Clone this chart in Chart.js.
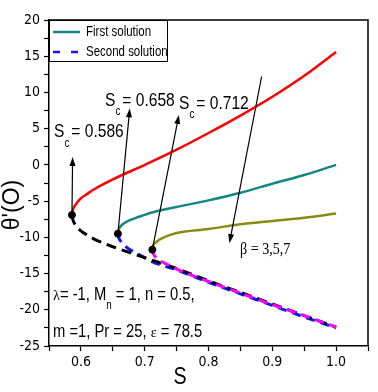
<!DOCTYPE html>
<html>
<head>
<meta charset="utf-8">
<script src="https://cdn.jsdelivr.net/npm/chart.js@4.4.1/dist/chart.umd.min.js"></script>
<style>
  body { margin: 0; background: #fff; }
  canvas { display: block; }
</style>
</head>
<body>
<canvas id="chart" width="378" height="392"></canvas>
<script>
// beta = 3
const sBeta3 = [0.586, 0.5875, 0.59, 0.595, 0.6, 0.61, 0.62, 0.65, 0.7, 0.75, 0.8, 0.85, 0.9, 0.95, 1.0];
const firstBeta3 = [-6.9, -6.2, -5.7, -5.1, -4.6, -4.0, -3.4, -2.0, 0.0, 2.1, 4.4, 6.8, 9.4, 12.3, 15.6];
const secondBeta3 = [-6.9, -7.6, -8.1, -8.7, -9.1, -9.7, -10.2, -11.3, -12.8, -14.3, -16.0, -17.6, -19.2, -20.8, -22.4];

// beta = 5
const sBeta5 = [0.658, 0.6595, 0.662, 0.667, 0.675, 0.69, 0.71, 0.75, 0.8, 0.85, 0.9, 0.95, 1.0];
const firstBeta5 = [-9.5, -8.9, -8.5, -8.1, -7.7, -7.2, -6.6, -5.8, -4.9, -3.85, -2.6, -1.4, 0.0];
const secondBeta5 = [-9.5, -10.1, -10.5, -11.0, -11.6, -12.3, -13.3, -14.5, -16.2, -17.8, -19.4, -21.0, -22.5];

// beta = 7
const sBeta7 = [0.712, 0.713, 0.715, 0.72, 0.73, 0.75, 0.8, 0.85, 0.9, 0.95, 1.0];
const firstBeta7 = [-11.7, -11.2, -10.9, -10.5, -10.0, -9.4, -8.85, -8.2, -7.75, -7.3, -6.7];
const secondBeta7 = [-11.7, -12.1, -12.5, -13.0, -13.5, -14.4, -16.1, -17.7, -19.3, -20.8, -22.4];

// critical points S_c
const critS = [0.586, 0.658, 0.712];
const critTheta = [-6.9, -9.5, -11.7];

const xTicks = [0.6, 0.7, 0.8, 0.9, 1.0];
const yTicks = [-25, -20, -15, -10, -5, 0, 5, 10, 15, 20];

const NARROW = '"Liberation Sans Narrow", "Arial Narrow", "DejaVu Sans Condensed", sans-serif';
const SANS = '"Liberation Sans", Arial, sans-serif';
const SERIF = '"Liberation Serif", "Times New Roman", serif';
const SQUEEZE = 0.82; // fake the narrow face of the original

function pts(xs, ys) {
  return xs.map((x, i) => ({ x: x, y: ys[i] }));
}

function curve(label, xs, ys, color, dash, order) {
  return {
    label: label,
    data: pts(xs, ys),
    showLine: true,
    borderColor: color,
    backgroundColor: color,
    borderWidth: dash ? 3 : 2.5,
    borderDash: dash || [],
    pointRadius: 0,
    cubicInterpolationMode: 'monotone',
    order: order
  };
}

const datasets = [
  curve('beta3 first', sBeta3, firstBeta3, '#ff0000', null, 5),
  curve('First solution', sBeta5, firstBeta5, '#138782', null, 5),
  curve('beta7 first', sBeta7, firstBeta7, '#8b8b12', null, 5),
  curve('Second solution', sBeta5, secondBeta5, '#1414ff', [9, 6], 4),
  curve('beta3 second', sBeta3, secondBeta3, '#000000', [10, 6], 3),
  curve('beta7 second', sBeta7, secondBeta7, '#ff00ff', [9, 6], 2),
  {
    label: 'critical',
    data: pts(critS, critTheta),
    showLine: false,
    pointRadius: 3.5,
    pointBackgroundColor: '#000',
    pointBorderColor: '#000',
    order: 0
  }
];

// arrows: [fromS, fromTheta, toS, toTheta]
const arrows = [
  [0.586, -6.9, 0.587, 1.1],
  [0.658, -9.5, 0.6766, 7.8],
  [0.712, -11.7, 0.7536, 6.9],
  [0.8833, 12.2, 0.8328, -10.8]
];

function arrow(ctx, x1, y1, x2, y2) {
  const a = Math.atan2(y2 - y1, x2 - x1);
  ctx.beginPath();
  ctx.moveTo(x1, y1);
  ctx.lineTo(x2 - 6 * Math.cos(a), y2 - 6 * Math.sin(a));
  ctx.stroke();
  ctx.beginPath();
  ctx.moveTo(x2, y2);
  ctx.lineTo(x2 - 9 * Math.cos(a) + 3 * Math.sin(a), y2 - 9 * Math.sin(a) - 3 * Math.cos(a));
  ctx.lineTo(x2 - 9 * Math.cos(a) - 3 * Math.sin(a), y2 - 9 * Math.sin(a) + 3 * Math.cos(a));
  ctx.closePath();
  ctx.fill();
}

// squeezed text, returns drawn width
function txt(ctx, s, x, y, font, sx) {
  sx = sx || SQUEEZE;
  ctx.font = font;
  ctx.save();
  ctx.translate(x, y);
  ctx.scale(sx, 1);
  ctx.fillText(s, 0, 0);
  ctx.restore();
  return ctx.measureText(s).width * sx;
}

function subText(ctx, parts, x, y) {
  // parts: [text, font, dy, gap, squeeze]
  for (const p of parts) {
    x += txt(ctx, p[0], x, y + (p[2] || 0), p[1], p[4]) + (p[3] || 0);
  }
}

const extras = {
  id: 'extras',
  beforeDatasetDraw(chart, args) {
    if (args.index !== datasets.length - 1) return;
    const ctx = chart.ctx, xs = chart.scales.x, ys = chart.scales.y;
    ctx.save();
    ctx.strokeStyle = '#000';
    ctx.fillStyle = '#000';
    ctx.lineWidth = 1.2;
    for (const a of arrows) {
      arrow(ctx, xs.getPixelForValue(a[0]), ys.getPixelForValue(a[1]),
        xs.getPixelForValue(a[2]), ys.getPixelForValue(a[3]));
    }
    ctx.restore();
  },
  afterDraw(chart) {
    const ctx = chart.ctx, area = chart.chartArea;
    ctx.save();
    // frame top / right
    ctx.strokeStyle = '#000';
    ctx.lineWidth = 1.5;
    ctx.beginPath();
    ctx.moveTo(area.left, area.top);
    ctx.lineTo(area.right, area.top);
    ctx.lineTo(area.right, area.bottom);
    ctx.stroke();

    // legend
    const first = chart.data.datasets[1], second = chart.data.datasets[3];
    ctx.fillStyle = '#fff';
    ctx.fillRect(area.left, area.top, 118, 41);
    ctx.lineWidth = 1;
    ctx.strokeRect(area.left + 0.5, area.top + 0.5, 118, 41);
    ctx.lineWidth = 2.5;
    ctx.strokeStyle = first.borderColor;
    ctx.beginPath();
    ctx.moveTo(area.left + 4, area.top + 12);
    ctx.lineTo(area.left + 31, area.top + 12);
    ctx.stroke();
    ctx.strokeStyle = second.borderColor;
    ctx.setLineDash([7, 11]);
    ctx.beginPath();
    ctx.moveTo(area.left + 4, area.top + 32);
    ctx.lineTo(area.left + 31, area.top + 32);
    ctx.stroke();
    ctx.setLineDash([]);
    ctx.fillStyle = '#000';
    ctx.textBaseline = 'middle';
    txt(ctx, first.label, area.left + 37, area.top + 12, '14px ' + SANS);
    txt(ctx, second.label, area.left + 37, area.top + 32, '14px ' + SANS);

    ctx.textBaseline = 'alphabetic';
    const big = '19px ' + SANS, sub = '12px ' + SANS;
    subText(ctx, [['S', big], ['c', sub, 10, 2], ['= 0.586', big]], 54, 137);
    subText(ctx, [['S', big], ['c', sub, 9, 2], ['= 0.658', big]], 105, 106);
    subText(ctx, [['S', big], ['c', sub, 9, 2], ['= 0.712', big]], 179, 109);

    txt(ctx, 'β = 3,5,7', 240, 254, '16px ' + SERIF, 0.88);

    const t = '18px ' + SANS, greek = '15px ' + SERIF, ts = '12px ' + SANS;
    subText(ctx, [['λ', greek, 0, 0, 0.95], ['= -1, M', t], ['n', ts, 9], [' = 1, n = 0.5,', t]], 53, 300);
    subText(ctx, [['m =1, Pr = 25, ', t], ['ε', greek, 0, 0, 0.95], [' = 78.5', t]], 53, 337);

    // axis titles
    ctx.textAlign = 'center';
    txt(ctx, 'S', 180, 384, '24px ' + SANS);
    ctx.translate(13, 205);
    ctx.rotate(-Math.PI / 2);
    ctx.textBaseline = 'middle';
    ctx.font = '23px ' + SANS;
    ctx.fillText("θ'(O)", 0, 0);
    ctx.restore();
  }
};

const isMajor = (v, list) => list.some(t => Math.abs(t - v) < 1e-6);

new Chart(document.getElementById('chart'), {
  type: 'scatter',
  data: { datasets: datasets },
  options: {
    responsive: false,
    animation: false,
    layout: { padding: { top: 20, right: 10, left: 0, bottom: 0 } },
    plugins: { legend: { display: false }, tooltip: { enabled: false } },
    scales: {
      x: {
        type: 'linear',
        min: 0.55,
        max: 1.05,
        afterFit: s => { s.height = 46; },
        border: { color: '#000', width: 1.5 },
        grid: { drawOnChartArea: false, tickLength: 5, tickColor: '#000', tickWidth: 1.2 },
        ticks: {
          stepSize: 0.05,
          autoSkip: false,
          maxRotation: 0,
          padding: 3,
          color: '#000',
          font: { family: NARROW, size: 14 },
          callback: v => isMajor(v, xTicks) ? v.toFixed(1) : ''
        }
      },
      y: {
        type: 'linear',
        min: -25,
        max: 20,
        afterFit: s => { s.width = 49; },
        border: { color: '#000', width: 1.5 },
        grid: { drawOnChartArea: false, tickLength: 5, tickColor: '#000', tickWidth: 1.2 },
        ticks: {
          stepSize: 2.5,
          autoSkip: false,
          padding: 4,
          color: '#000',
          font: { family: NARROW, size: 14 },
          callback: v => isMajor(v, yTicks) ? String(v) : ''
        }
      }
    }
  },
  plugins: [extras]
});
</script>
</body>
</html>
